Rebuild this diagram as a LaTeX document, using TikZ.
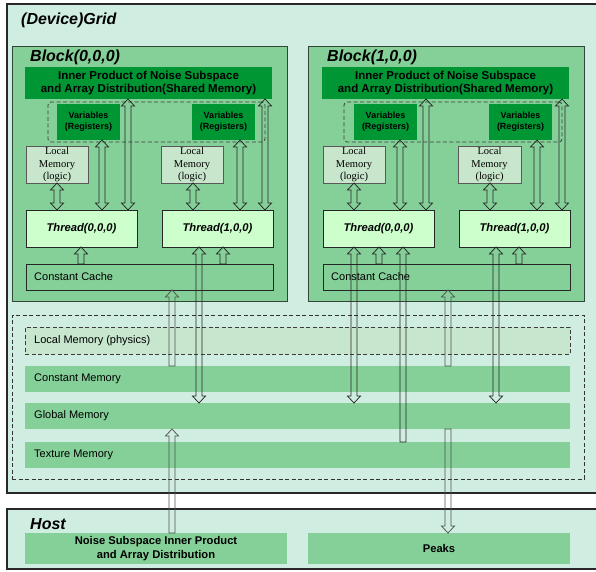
\documentclass[tikz,border=0pt]{standalone}
\usepackage{fontspec}
\setmainfont{Liberation Sans}
\newfontfamily\timesfont{Liberation Serif}
\usetikzlibrary{calc}

\definecolor{gridbg}{RGB}{207,237,225}
\definecolor{blockbg}{RGB}{133,207,152}
\definecolor{deepgreen}{RGB}{0,150,51}
\definecolor{logicbg}{RGB}{200,230,204}
\definecolor{threadbg}{RGB}{204,255,204}
\definecolor{rowbg}{RGB}{132,208,152}
\definecolor{physbg}{RGB}{199,230,206}
\definecolor{framecol}{RGB}{40,40,40}
\definecolor{blockframe}{RGB}{50,70,55}
\definecolor{dashcol}{RGB}{60,60,60}

\tikzset{
  rect/.style n args={4}{anchor=north west, at={(#1,#2)},
    minimum width={#3pt-#1pt}, minimum height={#4pt-#2pt},
    inner sep=0pt, outer sep=0pt},
  container/.style={fill=gridbg, draw=framecol, line width=1.5pt},
  blockbox/.style={fill=blockbg, draw=blockframe, line width=1pt},
  sharedbox/.style={fill=deepgreen, align=center,
    font=\bfseries\fontsize{11.5}{13.5}\selectfont},
  regbox/.style={fill=deepgreen, align=center,
    font=\bfseries\fontsize{9}{10.8}\selectfont},
  regframe/.style={draw=dashcol, dash pattern=on 4pt off 2.5pt,
    line width=0.8pt, rounded corners=3pt},
  logicbox/.style={fill=logicbg, draw=black!65, line width=0.8pt, align=center,
    font=\timesfont\fontsize{10.5}{12.2}\selectfont},
  threadbox/.style={fill=threadbg, draw=black!85, line width=0.8pt,
    font=\bfseries\itshape\fontsize{11.2}{13}\selectfont},
  cachebox/.style={fill=blockbg, draw=black!85, line width=0.8pt},
  rowbox/.style={fill=rowbg},
  physbox/.style={fill=physbg, draw=dashcol, dash pattern=on 4pt off 2.5pt,
    line width=0.8pt},
  memframe/.style={draw=black!80, dash pattern=on 4pt off 2.5pt, line width=0.8pt},
  hostbox/.style={fill=rowbg, align=center,
    font=\bfseries\fontsize{11.2}{13.5}\selectfont},
  bigtitle/.style={anchor=base west, inner sep=0pt,
    font=\bfseries\itshape\fontsize{16}{19}\selectfont},
  rowlabel/.style={anchor=west, inner sep=0pt,
    font=\fontsize{11}{13}\selectfont},
  arrline/.style={draw=black!85, line width=0.75pt, line join=miter},
  faint/.style={draw=black!68},
  % hollow block arrow with one head at the target
  sarrow/.style={arrline, to path={
    let \p1=(\tikztostart), \p2=(\tikztotarget),
        \p3=($(\tikztotarget)!7pt!(\tikztostart)$) in
    (\x1-3pt,\y1) -- (\x1-3pt,\y3) -- (\x1-6.5pt,\y3) -- (\x2,\y2)
    -- (\x1+6.5pt,\y3) -- (\x1+3pt,\y3) -- (\x1+3pt,\y1) -- cycle}},
  % hollow block arrow with heads at both ends
  darrow/.style={arrline, to path={
    let \p1=(\tikztostart), \p2=(\tikztotarget),
        \p3=($(\tikztotarget)!7pt!(\tikztostart)$),
        \p4=($(\tikztostart)!7pt!(\tikztotarget)$) in
    (\x1,\y1) -- (\x1+6.5pt,\y4) -- (\x1+3pt,\y4) -- (\x1+3pt,\y3)
    -- (\x1+6.5pt,\y3) -- (\x2,\y2) -- (\x1-6.5pt,\y3) -- (\x1-3pt,\y3)
    -- (\x1-3pt,\y4) -- (\x1-6.5pt,\y4) -- cycle}},
}

\begin{document}
\begin{tikzpicture}[x=1pt, y=-1pt]
\useasboundingbox (0,0) rectangle (596,571);
\clip (0,0) rectangle (596,571);

% ---------------- device grid ----------------
\node[rect={7}{4}{604}{493}, container] (grid) {};
\node[bigtitle] (gridtitle) at (21,24) {(Device)Grid};

% ---------------- block (0,0,0) ----------------
\node[rect={12}{46}{287}{301}, blockbox] (blk0) {};
\node[bigtitle] (blk0title) at (30,61) {Block(0,0,0)};
\node[rect={25}{67}{272}{99}, sharedbox] (sh0)
  {Inner Product of Noise Subspace\\and Array Distribution(Shared Memory)};
\node[rect={48}{102}{265}{142}, regframe] (reg0) {};
\node[rect={57}{104}{120}{140}, regbox] (var00) {Variables\\(Registers)};
\node[rect={192}{104}{255}{140}, regbox] (var01) {Variables\\(Registers)};
\node[rect={26}{146}{88}{183}, logicbox] (lm00) {Local\\Memory\\(logic)};
\node[rect={161}{146}{223}{183}, logicbox] (lm01) {Local\\Memory\\(logic)};
\node[rect={26}{210}{137}{247}, threadbox] (t00) {Thread(0,0,0)};
\node[rect={162}{210}{273}{247}, threadbox] (t01) {Thread(1,0,0)};
\node[rect={26}{264}{273}{290}, cachebox] (cc0) {};
\node[rowlabel] (cc0label) at ([xshift=8pt]cc0.west) {Constant Cache};

% ---------------- block (1,0,0) ----------------
\node[rect={308}{46}{584}{301}, blockbox] (blk1) {};
\node[bigtitle] (blk1title) at (327,61) {Block(1,0,0)};
\node[rect={322}{67}{569}{99}, sharedbox] (sh1)
  {Inner Product of Noise Subspace\\and Array Distribution(Shared Memory)};
\node[rect={344}{102}{562}{142}, regframe] (reg1) {};
\node[rect={354}{104}{417}{140}, regbox] (var10) {Variables\\(Registers)};
\node[rect={489}{104}{552}{140}, regbox] (var11) {Variables\\(Registers)};
\node[rect={323}{146}{385}{183}, logicbox] (lm10) {Local\\Memory\\(logic)};
\node[rect={458}{146}{521}{183}, logicbox] (lm11) {Local\\Memory\\(logic)};
\node[rect={323}{210}{434}{247}, threadbox] (t10) {Thread(0,0,0)};
\node[rect={459}{210}{570}{247}, threadbox] (t11) {Thread(1,0,0)};
\node[rect={323}{264}{570}{290}, cachebox] (cc1) {};
\node[rowlabel] (cc1label) at ([xshift=8pt]cc1.west) {Constant Cache};

% ---------------- device memories ----------------
\node[rect={12}{315}{584}{479}, memframe] (mem) {};
\node[rect={25}{327}{570}{354}, physbox] (lmp) {};
\node[rowlabel] (lmplabel) at ([xshift=9pt]lmp.west) {Local Memory (physics)};
\node[rect={25}{366}{570}{392}, rowbox] (cm) {};
\node[rowlabel] (cmlabel) at ([xshift=9pt]cm.west) {Constant Memory};
\node[rect={25}{403}{570}{429}, rowbox] (gm) {};
\node[rowlabel] (gmlabel) at ([xshift=9pt]gm.west) {Global Memory};
\node[rect={25}{442}{570}{468}, rowbox] (tm) {};
\node[rowlabel] (tmlabel) at ([xshift=9pt]tm.west) {Texture Memory};

% ---------------- host ----------------
\node[rect={7}{509}{604}{569}, container] (host) {};
\node[bigtitle] (hosttitle) at (30,529) {Host};
\node[rect={25}{533}{287}{564}, hostbox] (noise)
  {Noise Subspace Inner Product\\and Array Distribution};
\node[rect={308}{533}{570}{564}, hostbox] (peaks) {Peaks};

% ---------------- arrow columns ----------------
\foreach \name/\xpos in {ca/57, cb/102, cc/128, cd/193, ce/240, cf/265,
    cg/81, ch/223, ci/199, cj/172,
    ck/354, cl/400, cm/426, cn/490, co/537, cp/562,
    cq/379, cr/519, cs/403, ct/448, cu/496}
  \coordinate (col\name) at (\xpos,0);

% block (0,0,0) traffic
\draw[darrow] (lm00.south -| colca) to (t00.north -| colca);
\draw[darrow] (var00.south -| colcb) to (t00.north -| colcb);
\draw[darrow] (sh0.south -| colcc) to (t00.north -| colcc);
\draw[darrow] (lm01.south -| colcd) to (t01.north -| colcd);
\draw[darrow] (var01.south -| colce) to (t01.north -| colce);
\draw[darrow] (sh0.south -| colcf) to (t01.north -| colcf);
\draw[sarrow] (cc0.north -| colcg) to (t00.south -| colcg);
\draw[sarrow] (cc0.north -| colch) to (t01.south -| colch);
\draw[darrow] (t01.south -| colci) to (gm.north -| colci);
\draw[sarrow, faint] (cm.north -| colcj) to (cc0.south -| colcj);
\draw[sarrow, faint] (noise.north -| colcj) to (gm.south -| colcj);

% block (1,0,0) traffic
\draw[darrow] (lm10.south -| colck) to (t10.north -| colck);
\draw[darrow] (var10.south -| colcl) to (t10.north -| colcl);
\draw[darrow] (sh1.south -| colcm) to (t10.north -| colcm);
\draw[darrow] (lm11.south -| colcn) to (t11.north -| colcn);
\draw[darrow] (var11.south -| colco) to (t11.north -| colco);
\draw[darrow] (sh1.south -| colcp) to (t11.north -| colcp);
\draw[sarrow] (cc1.north -| colcq) to (t10.south -| colcq);
\draw[sarrow] (cc1.north -| colcr) to (t11.south -| colcr);
\draw[darrow] (t10.south -| colck) to (gm.north -| colck);
\draw[sarrow] (tm.north -| colcs) to (t10.south -| colcs);
\draw[sarrow, faint] (cm.north -| colct) to (cc1.south -| colct);
\draw[darrow] (t11.south -| colcu) to (gm.north -| colcu);
\draw[sarrow, faint] (gm.south -| colct) to (peaks.north -| colct);
\end{tikzpicture}
\end{document}
